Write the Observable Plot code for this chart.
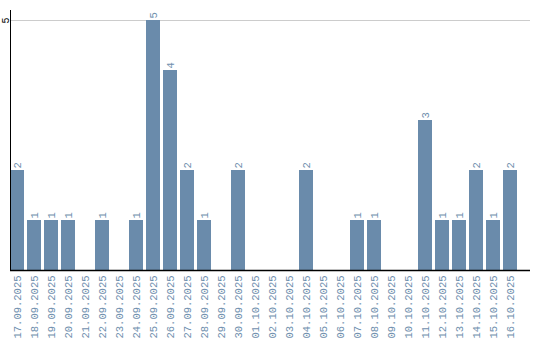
<!DOCTYPE html>
<html><head><meta charset="utf-8">
<script src="https://cdn.jsdelivr.net/npm/d3@7"></script>
<script src="https://cdn.jsdelivr.net/npm/@observablehq/plot@0.6"></script>
<style>body{margin:0;background:#fff}</style>
</head><body><div id="chart"></div>
<script>
const dates = ["17.09.2025","18.09.2025","19.09.2025","20.09.2025","21.09.2025","22.09.2025","23.09.2025","24.09.2025","25.09.2025","26.09.2025","27.09.2025","28.09.2025","29.09.2025","30.09.2025","01.10.2025","02.10.2025","03.10.2025","04.10.2025","05.10.2025","06.10.2025","07.10.2025","08.10.2025","09.10.2025","10.10.2025","11.10.2025","12.10.2025","13.10.2025","14.10.2025","15.10.2025","16.10.2025"];
const counts = [2,1,1,1,0,1,0,1,5,4,2,1,0,2,0,0,0,2,0,0,1,1,0,0,3,1,1,2,1,2];
const yTicks = [5];
const data = dates.map((d,i)=>({date:d, count:counts[i]}));
const barColor = "#6a8bab";
const labelColor = "#6f8fae";
const font = "Liberation Mono";
const chart = Plot.plot({
  width: 540, height: 340,
  marginLeft: 10, marginRight: 10, marginTop: 10, marginBottom: 70,
  style: {fontFamily: font, fontSize: "10.5px", background: "#fff"},
  x: {domain: dates, range: [10, 517], paddingInner: 0.18, paddingOuter: 0, align: 0, label: null},
  y: {domain: [0,5], range: [270, 20], label: null},
  marks: [
    Plot.ruleY(yTicks, {stroke: "#cccccc", strokeWidth: 1}),
    Plot.barY(data, {x: "date", y: "count", fill: barColor}),
    Plot.text(data.filter(d=>d.count>0), {x: "date", y: "count", text: d=>String(d.count), rotate: -90, textAnchor: "start", dy: -2, fill: labelColor, fontFamily: font, fontSize: 10.5}),
    Plot.axisX({tickRotate: -90, tickSize: 0, tickPadding: 5, color: labelColor, fontFamily: font, fontSize: 10.5, label: null}),
    Plot.axisY(yTicks, {tickRotate: -90, tickSize: 0, tickPadding: 2, tickFormat: d3.format("d"), color: "#000", fontFamily: font, fontSize: 10, label: null}),
    Plot.frame({anchor: "left", stroke: "#000"}),
    Plot.ruleY([0], {stroke: "#000", strokeWidth: 1.5})
  ]
});
document.getElementById("chart").appendChild(chart);
</script></body></html>
